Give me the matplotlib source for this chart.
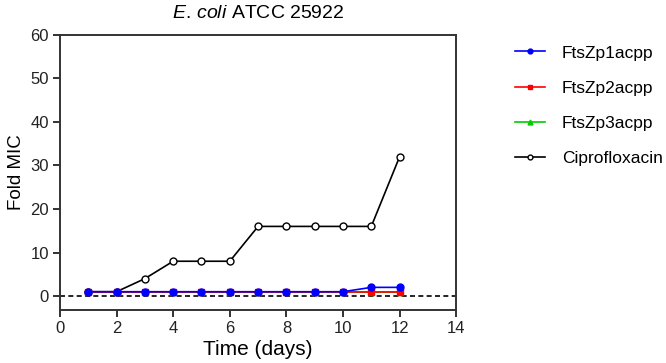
import matplotlib
matplotlib.use("Agg")
import matplotlib.pyplot as plt

plt.rcParams['font.family'] = ['Liberation Sans', 'DejaVu Sans']
plt.rcParams['mathtext.fontset'] = 'custom'
plt.rcParams['mathtext.rm'] = 'Liberation Sans'
plt.rcParams['mathtext.it'] = 'Liberation Sans:italic'

days = [1, 2, 3, 4, 5, 6, 7, 8, 9, 10, 11, 12]
ftszp1 = [1, 1, 1, 1, 1, 1, 1, 1, 1, 1, 2, 2]
ftszp2 = [1, 1, 1, 1, 1, 1, 1, 1, 1, 1, 1, 1]
ftszp3 = [1, 1, 1, 1, 1, 1, 1, 1, 1, 1, 1, 1]
cipro = [1, 1, 4, 8, 8, 8, 16, 16, 16, 16, 16, 32]
xticks = [0, 2, 4, 6, 8, 10, 12, 14]
yticks = [0, 10, 20, 30, 40, 50, 60]

fig = plt.figure(figsize=(6.66, 3.63), dpi=100)
ax = fig.add_axes([0.09, 0.146, 0.595, 0.758])

ax.axhline(0, color='black', linestyle=(0, (3, 2)), linewidth=1.2, zorder=1)
ax.plot(days, ftszp3, color='#00cc00', marker='^', markersize=5, linewidth=1.2, label='FtsZp3acpp', zorder=2)
ax.plot(days, cipro, color='black', marker='o', markersize=5, markerfacecolor='white',
        markeredgecolor='black', markeredgewidth=1, linewidth=1.2, label='Ciprofloxacin', zorder=3)
ax.plot(days, ftszp2, color='#ff0000', marker='s', markersize=5, linewidth=1.2, label='FtsZp2acpp', zorder=4)
ax.plot(days, ftszp1, color='#0000ff', marker='o', markersize=5, linewidth=1.2, label='FtsZp1acpp', zorder=5)

ax.set_xlim(0, 14)
ax.set_ylim(-3.2, 60)
ax.set_xticks(xticks)
ax.set_yticks(yticks)
ax.tick_params(direction='out', length=5, width=1.3, labelsize=12, colors='#222222', pad=3)
for s in ax.spines.values():
    s.set_linewidth(1.4)
    s.set_color('#333333')

ax.set_xlabel('Time (days)', fontsize=15, labelpad=3)
ax.set_ylabel('Fold MIC', fontsize=13.5, labelpad=4)
ax.set_title(r'$\it{E.}$$\,$$\it{coli}$ ATCC 25922', fontsize=14, pad=12)

handles, labels = ax.get_legend_handles_labels()
order = ['FtsZp1acpp', 'FtsZp2acpp', 'FtsZp3acpp', 'Ciprofloxacin']
hd = dict(zip(labels, handles))
fig.legend([hd[l] for l in order], order, loc='upper left', bbox_to_anchor=(0.773, 0.875),
           frameon=False, fontsize=12.5, labelspacing=1.15, handlelength=1.75, handletextpad=0.95,
           borderpad=0, borderaxespad=0, markerscale=0.7)

fig.savefig('out.png', dpi=100)
